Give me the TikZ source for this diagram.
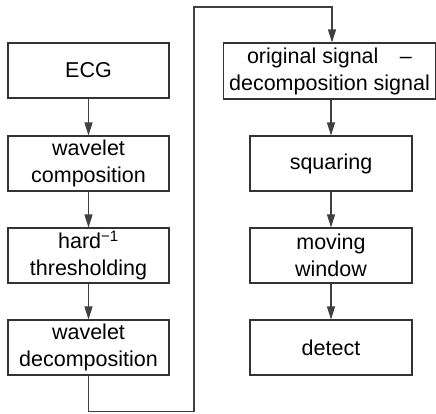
\documentclass[tikz,border=0pt]{standalone}
\usepackage{fontspec}
\setmainfont{Liberation Sans}
\usetikzlibrary{arrows.meta}
\begin{document}
\begin{tikzpicture}[x=1pt,y=-1pt,
  every node/.style={font=\fontsize{21.5}{27}\selectfont},
  box/.style={draw=black!80, line width=1.1pt, minimum height=55pt, inner sep=0pt, align=center, text=black},
  lbox/.style={box, minimum width=161pt},
  rbox/.style={box, minimum width=162pt},
  conn/.style={draw=black!75, line width=1.1pt},
  arr/.style={conn, -{Triangle[length=13pt,width=8pt]}}]
\useasboundingbox (0,0) rectangle (436,413);
\node[lbox] (ecg) at (88.5,70.5) {ECG};
\node[lbox] (wc) at (88.5,163.5) {wavelet\\composition};
\node[lbox] (hard) at (88.5,255.5) {hard\textsuperscript{−1}\\thresholding};
\node[lbox] (wd) at (88.5,347.5) {wavelet\\decomposition};
\node[box, minimum width=212pt, minimum height=56pt] (orig) at (329.5,71) {original signal\hspace{1em}–\\decomposition signal};
\node[rbox] (sq) at (331,163.5) {squaring};
\node[rbox] (mw) at (331,255.5) {moving\\window};
\node[rbox] (det) at (331,347.5) {detect};
\coordinate (c2) at (194,411.5);
\coordinate (c3) at (194,7);
\coordinate (c4) at (332,7);
\draw[arr] (ecg) -- (wc);
\draw[arr] (wc) -- (hard);
\draw[arr] (hard) -- (wd);
\draw[arr] (wd.south) |- (c2) -- (c3) -- (c4) -- (c4 |- orig.north);
\draw[arr] (orig.south -| sq) -- (sq);
\draw[arr] (sq) -- (mw);
\draw[arr] (mw) -- (det);
\end{tikzpicture}
\end{document}
